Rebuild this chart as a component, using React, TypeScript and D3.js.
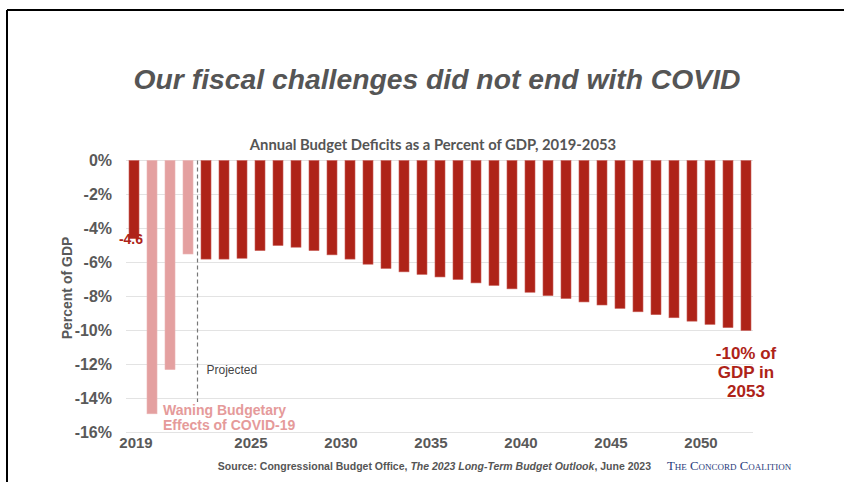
import React from "react";
import * as d3 from "d3";

const years: number[] = d3.range(2019, 2054);
const deficits: number[] = [
  -4.6, -14.9, -12.3, -5.5, -5.8, -5.8, -5.75, -5.3, -5.0, -5.1, -5.3, -5.55,
  -5.8, -6.1, -6.35, -6.55, -6.7, -6.85, -7.0, -7.2, -7.35, -7.55, -7.75,
  -7.95, -8.12, -8.32, -8.5, -8.7, -8.9, -9.07, -9.25, -9.45, -9.64, -9.83,
  -10.0,
];
const covidYears: number[] = [2020, 2021, 2022];
const yTicks: number[] = [0, -2, -4, -6, -8, -10, -12, -14, -16];
const xTickYears: number[] = [2019, 2025, 2030, 2035, 2040, 2045, 2050];

const W = 844;
const H = 482;
const DARK = "#AE2318";
const PINK = "#E4A0A0";
const GRAY = "#595959";
const SANS = "'Liberation Sans', Arial, sans-serif";

export default function App() {
  const x = d3
    .scaleBand<number>()
    .domain(years)
    .range([126, 754])
    .paddingInner(0.444)
    .paddingOuter(0.167);
  const y = d3.scaleLinear().domain([0, -16]).range([160.5, 432.5]);
  const bw = x.bandwidth();
  const cx = (yr: number) => (x(yr) as number) + bw / 2;
  const dashX = ((x(2022) as number) + bw + (x(2023) as number)) / 2 + 0.5;

  return (
    <svg
      width={W}
      height={H}
      style={{ position: "absolute", left: 0, top: 0, background: "#fff" }}
    >
      <rect x={0} y={0} width={W} height={H} fill="#fff" />
      {/* frame */}
      <line x1={7} y1={10} x2={W} y2={10} stroke="#000" strokeWidth={2} />
      <line x1={7} y1={10} x2={7} y2={H} stroke="#000" strokeWidth={2} />

      <text
        x={437}
        y={89}
        textAnchor="middle"
        fontFamily={SANS}
        fontWeight="bold"
        fontStyle="italic"
        fontSize={28.3}
        fill="#555"
      >
        Our fiscal challenges did not end with COVID
      </text>
      <text
        x={433}
        y={150}
        textAnchor="middle"
        fontFamily="Lato, 'Open Sans', sans-serif"
        fontWeight="bold"
        fontSize={14.8}
        fill="#555"
      >
        Annual Budget Deficits as a Percent of GDP, 2019-2053
      </text>

      {/* gridlines */}
      {yTicks.map((t) => (
        <line
          key={"g" + t}
          x1={126}
          x2={753}
          y1={y(t)}
          y2={y(t)}
          stroke="#E3E3E3"
          strokeWidth={1.2}
        />
      ))}
      {yTicks.map((t) => (
        <text
          key={"yt" + t}
          x={112}
          y={y(t)}
          dy="0.35em"
          textAnchor="end"
          fontFamily={SANS}
          fontWeight="bold"
          fontSize={16}
          fill={GRAY}
        >
          {t + "%"}
        </text>
      ))}
      <text
        transform={`translate(72,${y(-7.5)}) rotate(-90)`}
        textAnchor="middle"
        fontFamily={SANS}
        fontWeight="bold"
        fontSize={14}
        fill={GRAY}
      >
        Percent of GDP
      </text>

      {/* bars */}
      {years.map((yr, i) => (
        <rect
          key={"b" + yr}
          x={x(yr)}
          y={y(0)}
          width={bw}
          height={y(deficits[i]) - y(0)}
          fill={covidYears.includes(yr) ? PINK : DARK}
          stroke={covidYears.includes(yr) ? "#EBB5B5" : "#C9605A"}
          strokeWidth={0.6}
        />
      ))}

      {/* projected line */}
      <line
        x1={dashX}
        x2={dashX}
        y1={y(0)}
        y2={402}
        stroke="#777"
        strokeWidth={1.2}
        strokeDasharray="4,3"
      />
      <text
        x={dashX + 9}
        y={y(-12.3)}
        dy="0.35em"
        fontFamily={SANS}
        fontSize={12}
        fill="#444"
      >
        Projected
      </text>

      {/* x tick labels */}
      {xTickYears.map((yr) => (
        <text
          key={"xt" + yr}
          x={cx(yr) + (yr === 2019 ? 2 : 9)}
          y={443}
          dy="0.35em"
          textAnchor="middle"
          fontFamily={SANS}
          fontWeight="bold"
          fontSize={15}
          fill={GRAY}
        >
          {yr}
        </text>
      ))}

      {/* annotations */}
      <text
        x={cx(2019) + 9}
        y={y(-4.6)}
        dy="0.35em"
        textAnchor="end"
        fontFamily={SANS}
        fontWeight="bold"
        fontSize={14}
        fill={DARK}
      >
        -4.6
      </text>
      <text
        fontFamily={SANS}
        fontWeight="bold"
        fontSize={14}
        fill="#E59A9A"
      >
        <tspan x={163} y={410} dy="0.35em">
          Waning Budgetary
        </tspan>
        <tspan x={163} y={425} dy="0.35em">
          Effects of COVID-19
        </tspan>
      </text>
      <text
        textAnchor="middle"
        fontFamily={SANS}
        fontWeight="bold"
        fontSize={17}
        fill={DARK}
      >
        <tspan x={746} y={353} dy="0.35em">
          -10% of
        </tspan>
        <tspan x={746} y={372} dy="0.35em">
          GDP in
        </tspan>
        <tspan x={746} y={391} dy="0.35em">
          2053
        </tspan>
      </text>

      {/* source */}
      <text
        x={651}
        y={466}
        dy="0.35em"
        textAnchor="end"
        fontFamily={SANS}
        fontWeight="bold"
        fontSize={10.5}
        fill="#555"
      >
        Source: Congressional Budget Office,{" "}
        <tspan fontStyle="italic">The 2023 Long-Term Budget Outlook</tspan>,
        June 2023
      </text>
      <text
        x={667}
        y={466}
        dy="0.35em"
        fontFamily="'Liberation Serif', 'DejaVu Serif', serif"
        fontSize={12.8}
        fill="#1F3A7A"
        style={{ fontVariant: "small-caps" }}
      >
        The Concord Coalition
      </text>
    </svg>
  );
}
